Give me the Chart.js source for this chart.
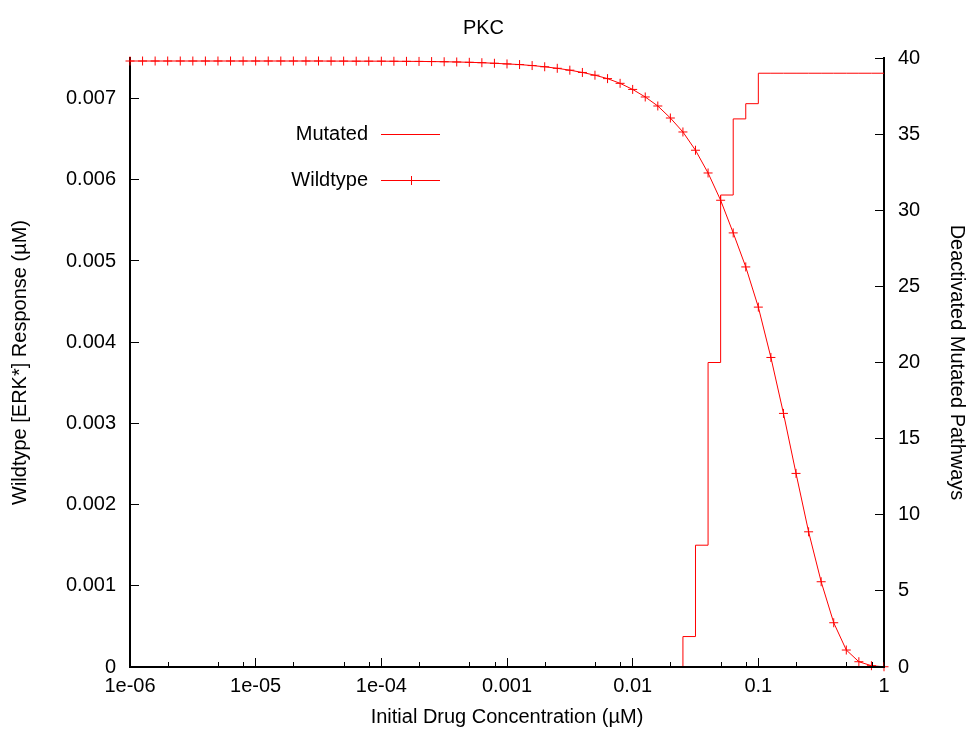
<!DOCTYPE html>
<html>
<head>
<meta charset="utf-8">
<title>PKC</title>
<script src="https://cdn.jsdelivr.net/npm/chart.js@4/dist/chart.umd.min.js"></script>
<style>
  html, body { margin: 0; padding: 0; background: #fff; }
</style>
</head>
<body>
<canvas id="pkc" width="967" height="729"></canvas>
<script>
// initial drug concentration (uM), 10 points per decade
const concentration = [
    1.000e-6, 1.259e-6, 1.585e-6, 1.995e-6, 2.512e-6, 3.162e-6, 3.981e-6, 5.012e-6, 6.310e-6, 7.943e-6,
    1.000e-5, 1.259e-5, 1.585e-5, 1.995e-5, 2.512e-5, 3.162e-5, 3.981e-5, 5.012e-5, 6.310e-5, 7.943e-5,
    1.000e-4, 1.259e-4, 1.585e-4, 1.995e-4, 2.512e-4, 3.162e-4, 3.981e-4, 5.012e-4, 6.310e-4, 7.943e-4,
    1.000e-3, 1.259e-3, 1.585e-3, 1.995e-3, 2.512e-3, 3.162e-3, 3.981e-3, 5.012e-3, 6.310e-3, 7.943e-3,
    1.000e-2, 1.259e-2, 1.585e-2, 1.995e-2, 2.512e-2, 3.162e-2, 3.981e-2, 5.012e-2, 6.310e-2, 7.943e-2,
    1.000e-1, 1.259e-1, 1.585e-1, 1.995e-1, 2.512e-1, 3.162e-1, 3.981e-1, 5.012e-1, 6.310e-1, 7.943e-1,
    1
];

// wildtype [ERK*] response (uM)
const wildtype = [
    0.007463, 0.007463, 0.007463, 0.007463, 0.007463, 0.007463, 0.007463, 0.007463, 0.007463, 0.007463,
    0.007463, 0.007463, 0.007463, 0.007463, 0.007463, 0.007463, 0.007462, 0.007462, 0.007461, 0.007461,
    0.007461, 0.007460, 0.007459, 0.007458, 0.007456, 0.007454, 0.007451, 0.007447, 0.007442, 0.007435,
    0.007427, 0.007419, 0.007407, 0.007392, 0.007373, 0.007350, 0.007322, 0.007288, 0.007246, 0.007188,
    0.007113, 0.007020, 0.006909, 0.006761, 0.006589, 0.006364, 0.006084, 0.005748, 0.005346, 0.004927,
    0.004432, 0.003812, 0.003123, 0.002384, 0.001665, 0.001050, 0.000545, 0.000209, 0.000065, 0.000016,
    0.000003
];

// number of deactivated mutated pathways
const mutated = [
    0, 0, 0, 0, 0, 0, 0, 0, 0, 0,
    0, 0, 0, 0, 0, 0, 0, 0, 0, 0,
    0, 0, 0, 0, 0, 0, 0, 0, 0, 0,
    0, 0, 0, 0, 0, 0, 0, 0, 0, 0,
    0, 0, 0, 0, 2, 8, 20, 31, 36, 37,
    39, 39, 39, 39, 39, 39, 39, 39, 39, 39,
    39
];

const xTicks = [1e-6, 1e-5, 1e-4, 1e-3, 1e-2, 1e-1, 1];
const xTickLabels = ['1e-06', '1e-05', '1e-04', '0.001', '0.01', '0.1', '1'];
const xMinorSteps = [2, 5, 8];
const leftTicks = [0, 0.001, 0.002, 0.003, 0.004, 0.005, 0.006, 0.007];
const leftTickLabels = ['0', '0.001', '0.002', '0.003', '0.004', '0.005', '0.006', '0.007'];
const rightTicks = [0, 5, 10, 15, 20, 25, 30, 35, 40];

const FONT = "'Liberation Sans', Arial, Helvetica, sans-serif";
const RED = '#ff0000';

function toPoints(ys) {
    return concentration.map((c, i) => ({x: c, y: ys[i]}));
}

// gnuplot style minor ticks on the log axis
const minorTicks = {
    id: 'minorTicks',
    afterDraw: function(chart) {
        let xs = chart.scales.x;
        let ctx = chart.ctx;
        let bottom = chart.chartArea.bottom;

        ctx.save();
        ctx.strokeStyle = '#000';
        ctx.lineWidth = 1;
        xTicks.slice(0, -1).forEach(function(d) {
            xMinorSteps.forEach(function(m) {
                let px = Math.round(xs.getPixelForValue(d * m)) + 0.5;
                ctx.beginPath();
                ctx.moveTo(px, bottom);
                ctx.lineTo(px, bottom - 5);
                ctx.stroke();
            });
        });
        ctx.restore();
    }
};

// key placed inside the plot, text on the left of the sample line
const insideLegend = {
    id: 'insideLegend',
    afterDatasetsDraw: function(chart) {
        let ctx = chart.ctx;
        let area = chart.chartArea;
        let textRight = area.left + 238;
        let lineStart = area.left + 251;
        let lineEnd = area.left + 310;

        chart.data.datasets.forEach(function(ds, i) {
            let y = Math.round(area.top + 76 + i * 46) + 0.5;
            ctx.save();
            ctx.font = '20px ' + FONT;
            ctx.fillStyle = '#000';
            ctx.textAlign = 'right';
            ctx.textBaseline = 'middle';
            ctx.fillText(ds.label, textRight, y);

            ctx.strokeStyle = ds.borderColor;
            ctx.lineWidth = 1;
            ctx.beginPath();
            ctx.moveTo(lineStart, y);
            ctx.lineTo(lineEnd, y);
            if (ds.pointRadius > 0) {
                let cx = Math.round((lineStart + lineEnd) / 2) + 0.5;
                let r = ds.pointRadius;
                ctx.moveTo(cx - r, y);
                ctx.lineTo(cx + r, y);
                ctx.moveTo(cx, y - r);
                ctx.lineTo(cx, y + r);
            }
            ctx.stroke();
            ctx.restore();
        });
    }
};

const tickFont = {family: FONT, size: 20};

new Chart(document.getElementById('pkc').getContext('2d'), {
    type: 'line',
    data: {
        datasets: [{
            label: 'Mutated',
            data: toPoints(mutated),
            yAxisID: 'y2',
            borderColor: RED,
            borderWidth: 1,
            pointRadius: 0,
            stepped: 'before',
            fill: false
        }, {
            label: 'Wildtype',
            data: toPoints(wildtype),
            yAxisID: 'y',
            borderColor: RED,
            borderWidth: 1,
            pointStyle: 'cross',
            pointRadius: 4.5,
            pointBorderColor: RED,
            pointBorderWidth: 1,
            tension: 0,
            fill: false,
            clip: false
        }]
    },
    options: {
        responsive: false,
        animation: false,
        devicePixelRatio: 1,
        layout: {padding: 0},
        plugins: {
            legend: {display: false},
            tooltip: {enabled: false},
            title: {
                display: true,
                text: 'PKC',
                color: '#000',
                font: {family: FONT, size: 20, weight: 'normal'},
                padding: {top: 16, bottom: 18}
            }
        },
        scales: {
            x: {
                type: 'logarithmic',
                position: 'bottom',
                min: 1e-6,
                max: 1,
                afterBuildTicks: function(scale) {
                    scale.ticks = xTicks.map(v => ({value: v}));
                },
                afterFit: function(scale) {
                    scale.height = 62;
                },
                ticks: {
                    autoSkip: false,
                    maxRotation: 0,
                    padding: 16,
                    color: '#000',
                    font: tickFont,
                    callback: (v, i) => xTickLabels[i]
                },
                grid: {drawOnChartArea: false, drawTicks: true, tickLength: -9, tickColor: '#000', tickWidth: 1, z: 1},
                border: {display: true, color: '#000', width: 2, z: 1},
                title: {
                    display: true,
                    text: 'Initial Drug Concentration (µM)',
                    color: '#000',
                    font: tickFont,
                    padding: {top: 0, bottom: 0}
                }
            },
            y: {
                type: 'linear',
                position: 'left',
                min: 0,
                max: 0.0075,
                afterBuildTicks: function(scale) {
                    scale.ticks = leftTicks.map(v => ({value: v}));
                },
                afterFit: function(scale) {
                    scale.width = 130;
                },
                ticks: {
                    padding: 23,
                    color: '#000',
                    font: tickFont,
                    callback: (v, i) => leftTickLabels[i]
                },
                grid: {drawOnChartArea: false, drawTicks: true, tickLength: -9, tickColor: '#000', tickWidth: 1},
                border: {display: true, color: '#000', width: 2},
                title: {
                    display: true,
                    text: 'Wildtype [ERK*] Response (µM)',
                    color: '#000',
                    font: tickFont,
                    padding: {top: 8, bottom: 0}
                }
            },
            y2: {
                type: 'linear',
                position: 'right',
                min: 0,
                max: 40,
                afterBuildTicks: function(scale) {
                    scale.ticks = rightTicks.map(v => ({value: v}));
                },
                afterFit: function(scale) {
                    scale.width = 83;
                },
                ticks: {
                    padding: 23,
                    color: '#000',
                    font: tickFont
                },
                grid: {drawOnChartArea: false, drawTicks: true, tickLength: -9, tickColor: '#000', tickWidth: 1},
                border: {display: true, color: '#000', width: 2},
                title: {
                    display: true,
                    text: 'Deactivated Mutated Pathways',
                    color: '#000',
                    font: tickFont,
                    padding: {top: -2, bottom: 0}
                }
            }
        }
    },
    plugins: [minorTicks, insideLegend]
});
</script>
</body>
</html>
